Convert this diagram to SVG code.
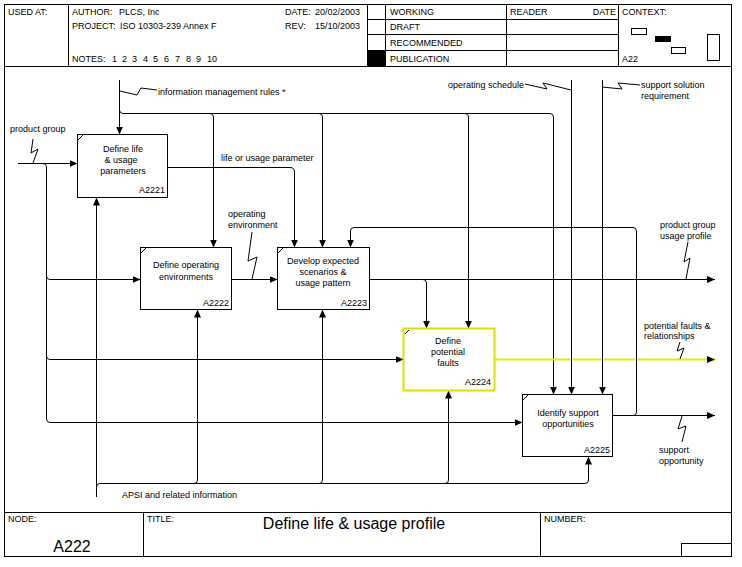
<svg xmlns="http://www.w3.org/2000/svg" width="742" height="567" viewBox="0 0 742 567">
<defs>
<marker id="a" viewBox="0 0 8 7" refX="8" refY="3.5" markerWidth="8" markerHeight="7" markerUnits="userSpaceOnUse" orient="auto"><path d="M0,0 L8,3.5 L0,7z" fill="#000"/></marker>
<style>
text{font-family:"Liberation Sans",Arial,sans-serif;font-size:9px;fill:#000}
.c{text-anchor:middle}
.e{text-anchor:end}
.f{fill:none;stroke:#000;stroke-width:1}
.box{fill:#fff;stroke:#000;stroke-width:1}
.con path{fill:none;stroke:#000;stroke-width:1}
.con path.ar{marker-end:url(#a)}
.sq polyline{fill:none;stroke:#000;stroke-width:1}
</style>
</defs>
<rect width="742" height="567" fill="#fff"/>
<g id="frame">
<rect class="f" x="4.5" y="4.5" width="727" height="552"/>
<path class="f" d="M4.5,66.5H731.5M68.5,4.5V66.5M367.5,4.5V66.5M385.5,4.5V66.5M506.5,4.5V66.5M618.5,4.5V66.5M367.5,19.5H618.5M367.5,34.5H618.5M367.5,50.5H618.5M4.5,512.5H731.5M143.5,512.5V556.5M540.5,512.5V556.5"/>
<rect x="367.5" y="50.5" width="18" height="16" fill="#000"/>
<rect class="f" x="681.5" y="543.5" width="50" height="13"/>
<rect class="f" x="631.5" y="28.5" width="15" height="6"/>
<rect x="655" y="36" width="16" height="6" fill="#000"/>
<rect class="f" x="671.5" y="47.5" width="14" height="6"/>
<rect class="f" x="707.5" y="34.5" width="12" height="26"/>
<text x="8" y="15">USED AT:</text>
<text x="72" y="15">AUTHOR:<tspan x="119">PLCS, Inc</tspan></text>
<text x="72" y="29">PROJECT:<tspan x="120">ISO 10303-239 Annex F</tspan></text>
<text x="72" y="62">NOTES:<tspan x="112">1</tspan><tspan x="122">2</tspan><tspan x="132">3</tspan><tspan x="143">4</tspan><tspan x="153">5</tspan><tspan x="164">6</tspan><tspan x="175">7</tspan><tspan x="186">8</tspan><tspan x="196">9</tspan><tspan x="207">10</tspan></text>
<text x="285" y="15">DATE:<tspan x="315">20/02/2003</tspan></text>
<text x="285" y="29">REV:<tspan x="315">15/10/2003</tspan></text>
<text x="390" y="15">WORKING</text>
<text x="390" y="30">DRAFT</text>
<text x="390" y="46">RECOMMENDED</text>
<text x="390" y="62">PUBLICATION</text>
<text x="510" y="15">READER</text>
<text class="e" x="616" y="15">DATE</text>
<text x="622" y="15">CONTEXT:</text>
<text x="622" y="62">A22</text>
<text x="8" y="522">NODE:</text>
<text x="72" y="552" class="c" style="font-size:16px">A222</text>
<text x="147" y="522">TITLE:</text>
<text x="354" y="529" class="c" style="font-size:16px">Define life &amp; usage profile</text>
<text x="544" y="522">NUMBER:</text>
</g>
<g id="connectors" class="con">
<path class="ar" d="M119.5,80V134.5"/>
<path class="ar" d="M119.5,110Q119.5,113.5 123,113.5H550Q553.5,113.5 553.5,117V394.5"/>
<path class="ar" d="M210,113.5Q213.5,113.5 213.5,117V247.5"/>
<path class="ar" d="M319,113.5Q322.5,113.5 322.5,117V247.5"/>
<path class="ar" d="M465,113.5Q468.5,113.5 468.5,117V328.5"/>
<path class="ar" d="M18,163.5H77.5"/>
<path class="ar" d="M43,163.5Q46.5,163.5 46.5,167V419Q46.5,422.5 50,422.5H522.5"/>
<path class="ar" d="M46.5,276Q46.5,279.5 50,279.5H140.5"/>
<path class="ar" d="M46.5,356Q46.5,359.5 50,359.5H403.5"/>
<path class="ar" d="M167.5,167.5H290Q294.5,167.5 294.5,172V247.5"/>
<path class="ar" d="M231.5,279.5H277.5"/>
<path class="ar" d="M369.5,279.5H715"/>
<path class="ar" d="M423,279.5Q426.5,279.5 426.5,283V328.5"/>
<path class="ar" d="M494.5,359.5H715" style="stroke:#e8e800;stroke-width:2"/>
<path class="ar" d="M612.5,415.5H715"/>
<path class="ar" d="M633,415.5Q636.5,415.5 636.5,412V231Q636.5,227.5 633,227.5H354Q350.5,227.5 350.5,231V247.5"/>
<path class="ar" d="M571.5,80V394.5"/>
<path class="ar" d="M602.5,80V394.5"/>
<path class="ar" d="M96.5,497V197.5"/>
<path class="ar" d="M96.5,487Q96.5,483.5 100,483.5H585Q588.5,483.5 588.5,480V456.5"/>
<path class="ar" d="M194,483.5Q197.5,483.5 197.5,480V309.5"/>
<path class="ar" d="M319,483.5Q322.5,483.5 322.5,480V309.5"/>
<path class="ar" d="M445,483.5Q448.5,483.5 448.5,480V390.5"/>
</g>
<g id="labels" class="sq">
<polyline points="120,91 137,95 141,88 157,90"/>
<text x="158" y="95">information management rules *</text>
<polyline points="33,163 38,149 31,153 33,139"/>
<text x="10" y="132">product group</text>
<text x="221" y="161">life or usage parameter</text>
<polyline points="252,279 257,257 248,261 252,232"/>
<text x="228" y="217">operating</text>
<text x="228" y="228">environment</text>
<polyline points="525,84 547,89 543,83 571,90"/>
<text class="e" x="524" y="88">operating schedule</text>
<polyline points="602,87 622,89 618,83 640,85"/>
<text x="641" y="88">support solution</text>
<text x="641" y="99">requirement</text>
<polyline points="686,279 690,258 684,262 688,242"/>
<text x="660" y="228">product group</text>
<text x="660" y="239">usage profile</text>
<polyline points="680,359 684,348 677,351 680,342"/>
<text x="644" y="329">potential faults &amp;</text>
<text x="644" y="339">relationships</text>
<polyline points="682,416 678,429 686,426 682,442"/>
<text x="659" y="453">support</text>
<text x="659" y="464">opportunity</text>
<text x="122" y="498">APSI and related information</text>
</g>
<g id="A2221">
<rect class="box" x="77.5" y="134.5" width="90" height="63"/>
<path class="f" d="M78,140L83,135"/>
<text class="c" x="123" y="152">Define life</text>
<text class="c" x="121" y="163">&amp; usage</text>
<text class="c" x="123" y="174">parameters</text>
<text class="e" x="165" y="193">A2221</text>
</g>
<g id="A2222">
<rect class="box" x="140.5" y="247.5" width="91" height="62"/>
<path class="f" d="M141,253L146,248"/>
<text class="c" x="186" y="268">Define operating</text>
<text class="c" x="186" y="280">environments</text>
<text class="e" x="229" y="306">A2222</text>
</g>
<g id="A2223">
<rect class="box" x="277.5" y="247.5" width="92" height="62"/>
<path class="f" d="M278,253L283,248"/>
<text class="c" x="323" y="264">Develop expected</text>
<text class="c" x="323" y="275">scenarios &amp;</text>
<text class="c" x="323" y="286">usage pattern</text>
<text class="e" x="367" y="306">A2223</text>
</g>
<g id="A2224">
<rect class="box" x="403.5" y="328.5" width="91" height="62" style="stroke:#e0e000;stroke-width:2"/>
<path class="f" d="M405,334L409,330"/>
<text class="c" x="448" y="344">Define</text>
<text class="c" x="448" y="355">potential</text>
<text class="c" x="448" y="366">faults</text>
<text class="e" x="491" y="385">A2224</text>
</g>
<g id="A2225">
<rect class="box" x="522.5" y="394.5" width="90" height="62"/>
<path class="f" d="M523,400L528,395"/>
<text class="c" x="568" y="416">Identify support</text>
<text class="c" x="568" y="427">opportunities</text>
<text class="e" x="610" y="453">A2225</text>
</g>
</svg>
